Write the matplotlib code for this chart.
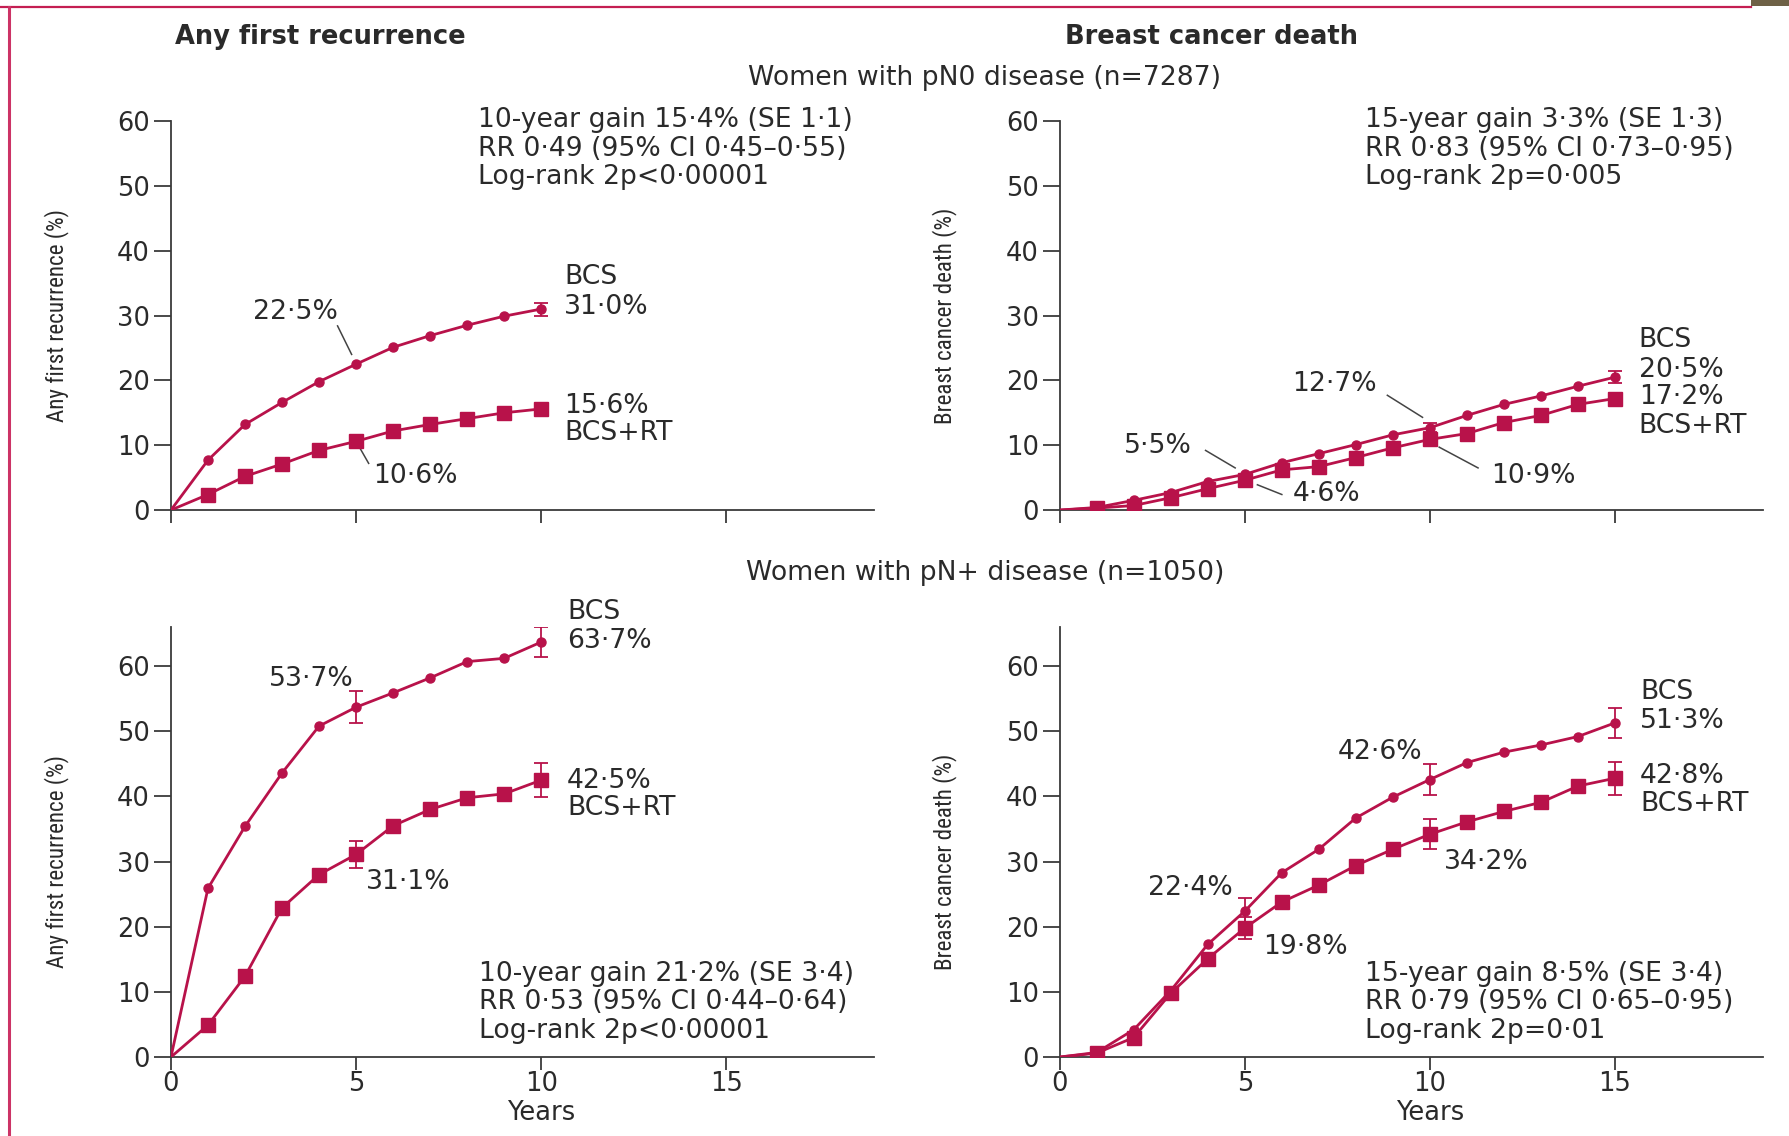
import numpy as np
import matplotlib
matplotlib.use('Agg')
import matplotlib.pyplot as plt
from matplotlib.lines import Line2D
from matplotlib.patches import Rectangle
import matplotlib.transforms as mtransforms

RED = '#b8124a'
INK = '#2a2a2a'
FONT = ['DejaVu Sans']
NARROW = ['Roboto Condensed', 'Liberation Sans Narrow', 'Roboto', 'DejaVu Sans']
plt.rcParams['font.family'] = FONT
FS = 18.5      # tick labels, headings
TS = 19.2      # annotation text

# years of follow-up
years10 = list(range(11))
years15 = list(range(16))

# pN0: any first recurrence (%)
pn0_rec_bcs = [0, 7.7, 13.2, 16.6, 19.8, 22.5, 25.1, 26.9, 28.5, 29.9, 31.0]
pn0_rec_rt = [0, 2.4, 5.2, 7.1, 9.2, 10.6, 12.2, 13.2, 14.1, 15.0, 15.6]
# pN0: breast cancer death (%)
pn0_death_bcs = [0, 0.4, 1.5, 2.7, 4.4, 5.5, 7.3, 8.7, 10.1, 11.6, 12.7, 14.6, 16.3, 17.6, 19.1, 20.5]
pn0_death_rt = [0, 0.3, 0.7, 1.9, 3.3, 4.6, 6.2, 6.7, 8.1, 9.6, 10.9, 11.8, 13.5, 14.6, 16.3, 17.2]
# pN+: any first recurrence (%)
pnp_rec_bcs = [0, 25.9, 35.4, 43.6, 50.8, 53.7, 55.9, 58.2, 60.7, 61.2, 63.7]
pnp_rec_rt = [0, 4.9, 12.4, 22.9, 28.0, 31.1, 35.5, 38.0, 39.8, 40.4, 42.5]
# pN+: breast cancer death (%)
pnp_death_bcs = [0, 0.7, 4.2, 10.2, 17.3, 22.4, 28.3, 31.9, 36.7, 39.9, 42.6, 45.2, 46.8, 47.9, 49.2, 51.3]
pnp_death_rt = [0, 0.6, 3.0, 9.8, 15.1, 19.8, 23.8, 26.4, 29.4, 31.9, 34.2, 36.1, 37.7, 39.1, 41.6, 42.8]

# error bar half-widths {year: value}
err_pn0_rec = ({10: 1.0}, {10: 0.8})
err_pn0_death = ({10: 0.7, 15: 0.9}, {10: 0.6, 15: 0.8})
err_pnp_rec = ({5: 2.5, 10: 2.3}, {5: 2.1, 10: 2.6})
err_pnp_death = ({5: 2.0, 10: 2.4, 15: 2.3}, {5: 1.7, 10: 2.3, 15: 2.5})

stats_pn0_rec = ['10-year gain 15·4% (SE 1·1)', 'RR 0·49 (95% CI 0·45–0·55)', 'Log-rank 2p<0·00001']
stats_pn0_death = ['15-year gain 3·3% (SE 1·3)', 'RR 0·83 (95% CI 0·73–0·95)', 'Log-rank 2p=0·005']
stats_pnp_rec = ['10-year gain 21·2% (SE 3·4)', 'RR 0·53 (95% CI 0·44–0·64)', 'Log-rank 2p<0·00001']
stats_pnp_death = ['15-year gain 8·5% (SE 3·4)', 'RR 0·79 (95% CI 0·65–0·95)', 'Log-rank 2p=0·01']

fig = plt.figure(figsize=(17.9, 11.36), dpi=100)
fig.patch.set_facecolor('white')

ax_tl = fig.add_axes([0.0955, 0.551, 0.393, 0.3425])
ax_tr = fig.add_axes([0.592, 0.551, 0.393, 0.3425])
ax_bl = fig.add_axes([0.0955, 0.0695, 0.393, 0.3785])
ax_br = fig.add_axes([0.592, 0.0695, 0.393, 0.3785])


def panel(ax, x, bcs, rt, errs, ylabel, ymax, bottom):
    ax.plot(x, bcs, color=RED, lw=2.0, marker='o', ms=6.5, markevery=slice(1, None), zorder=3)
    ax.plot(x, rt, color=RED, lw=2.0, marker='s', ms=9.5, markevery=slice(1, None), zorder=3)
    for series, e in zip((bcs, rt), errs):
        yrs = list(e.keys())
        ax.errorbar(yrs, [series[k] for k in yrs], yerr=list(e.values()), fmt='none',
                    ecolor=RED, elinewidth=1.3, capsize=5, capthick=1.3, zorder=3)
    ax.set_xlim(0, 19)
    ax.set_ylim(0, ymax)
    ax.set_yticks(range(0, 61, 10))
    ax.set_xticks([0, 5, 10, 15])
    for s in ('top', 'right'):
        ax.spines[s].set_visible(False)
    for s in ('left', 'bottom'):
        ax.spines[s].set_color('#3a3a3a')
        ax.spines[s].set_linewidth(1.3)
    ax.tick_params(axis='y', length=12, width=1.3, color='#3a3a3a', labelsize=FS,
                   labelcolor=INK, pad=3)
    ax.tick_params(axis='x', length=9, width=1.3, color='#3a3a3a', labelsize=FS,
                   labelcolor=INK, pad=1, labelbottom=bottom)
    if bottom:
        ax.text(10, -0.13, 'Years', transform=mtransforms.blended_transform_factory(ax.transData, ax.transAxes),
                ha='center', va='center', fontsize=FS, color=INK)
    ax.text(-0.163, 30, ylabel, rotation=90, ha='center', va='center', fontsize=16.6, color=INK,
            family=NARROW,
            transform=mtransforms.blended_transform_factory(ax.transAxes, ax.transData))


def stats(ax, lines, x, ys):
    for t, y in zip(lines, ys):
        ax.text(x, y, t, ha='left', va='center', fontsize=TS, color=INK, clip_on=False)


def label(ax, x, y, t, ha='center'):
    ax.text(x, y, t, ha=ha, va='center', fontsize=TS, color=INK, clip_on=False)


def leader(ax, x0, y0, x1, y1):
    ax.plot([x0, x1], [y0, y1], color='#444444', lw=1.1, zorder=2)


panel(ax_tl, years10, pn0_rec_bcs, pn0_rec_rt, err_pn0_rec, 'Any first recurrence (%)', 60, False)
panel(ax_tr, years15, pn0_death_bcs, pn0_death_rt, err_pn0_death, 'Breast cancer death (%)', 60, False)
panel(ax_bl, years10, pnp_rec_bcs, pnp_rec_rt, err_pnp_rec, 'Any first recurrence (%)', 66, True)
panel(ax_br, years15, pnp_death_bcs, pnp_death_rt, err_pnp_death, 'Breast cancer death (%)', 66, True)

# top left annotations
stats(ax_tl, stats_pn0_rec, 8.3, [60.2, 55.7, 51.3])
label(ax_tl, 10.62, 36.0, 'BCS', 'left')
label(ax_tl, 10.62, 31.3, '31·0%', 'left')
label(ax_tl, 10.62, 16.1, '15·6%', 'left')
label(ax_tl, 10.62, 11.9, 'BCS+RT', 'left')
label(ax_tl, 3.35, 30.5, '22·5%')
leader(ax_tl, 4.5, 28.4, 4.88, 24.0)
label(ax_tl, 6.6, 5.2, '10·6%')
leader(ax_tl, 5.12, 9.4, 5.34, 7.2)

# top right annotations
stats(ax_tr, stats_pn0_death, 8.25, [60.2, 55.7, 51.3])
label(ax_tr, 15.64, 26.2, 'BCS', 'left')
label(ax_tr, 15.64, 21.6, '20·5%', 'left')
label(ax_tr, 15.64, 17.4, '17·2%', 'left')
label(ax_tr, 15.64, 13.0, 'BCS+RT', 'left')
label(ax_tr, 7.43, 19.5, '12·7%')
leader(ax_tr, 8.85, 17.7, 9.8, 14.3)
label(ax_tr, 2.66, 9.9, '5·5%')
leader(ax_tr, 3.94, 9.2, 4.74, 6.5)
label(ax_tr, 7.2, 2.5, '4·6%')
leader(ax_tr, 5.34, 3.9, 6.0, 2.4)
label(ax_tr, 12.8, 5.2, '10·9%')
leader(ax_tr, 10.25, 9.7, 11.3, 6.5)

# bottom left annotations
stats(ax_bl, stats_pnp_rec, 8.32, [12.8, 8.4, 4.0])
label(ax_bl, 10.7, 68.3, 'BCS', 'left')
label(ax_bl, 10.7, 63.9, '63·7%', 'left')
label(ax_bl, 10.7, 42.4, '42·5%', 'left')
label(ax_bl, 10.7, 38.2, 'BCS+RT', 'left')
label(ax_bl, 3.8, 58.1, '53·7%')
label(ax_bl, 6.42, 26.8, '31·1%')

# bottom right annotations
stats(ax_br, stats_pnp_death, 8.25, [12.8, 8.4, 4.0])
label(ax_br, 15.68, 56.0, 'BCS', 'left')
label(ax_br, 15.68, 51.6, '51·3%', 'left')
label(ax_br, 15.68, 43.1, '42·8%', 'left')
label(ax_br, 15.68, 38.9, 'BCS+RT', 'left')
label(ax_br, 8.65, 46.8, '42·6%')
label(ax_br, 3.53, 25.9, '22·4%')
label(ax_br, 6.63, 16.9, '19·8%')
label(ax_br, 11.53, 29.9, '34·2%')

# column titles and group headings
fig.text(175 / 1790, 1 - 36.5 / 1136, 'Any first recurrence', ha='left', va='center',
         fontsize=18.5, weight='bold', color=INK)
fig.text(1065 / 1790, 1 - 36.5 / 1136, 'Breast cancer death', ha='left', va='center',
         fontsize=18.5, weight='bold', color=INK)
fig.text(985 / 1790, 1 - 77.6 / 1136, 'Women with pN0 disease (n=7287)', ha='center', va='center',
         fontsize=TS, color=INK)
fig.text(985 / 1790, 1 - 573 / 1136, 'Women with pN+ disease (n=1050)', ha='center', va='center',
         fontsize=TS, color=INK)

# page frame
fig.add_artist(Line2D([0, 1751 / 1790], [1 - 7 / 1136, 1 - 7 / 1136], transform=fig.transFigure,
                      color='#c41e52', lw=1.6))
fig.add_artist(Line2D([9 / 1790, 9 / 1790], [0, 1 - 7 / 1136], transform=fig.transFigure,
                      color='#cc3366', lw=2.2))
fig.add_artist(Rectangle((1751 / 1790, 1 - 6 / 1136), 39 / 1790, 6 / 1136, transform=fig.transFigure,
                         color='#6e6146', lw=0))

fig.savefig('out.png', dpi=100, facecolor='white')
